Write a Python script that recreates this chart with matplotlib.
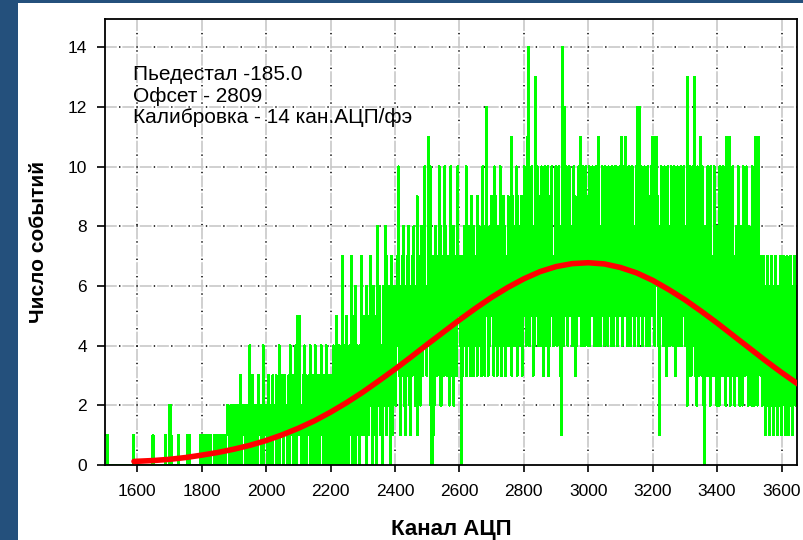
import numpy as np
import matplotlib
matplotlib.use("Agg")
import matplotlib.pyplot as plt
from matplotlib.patches import Rectangle

plt.rcParams['font.family'] = ['Liberation Sans', 'DejaVu Sans']
plt.rcParams['lines.scale_dashes'] = False

# гистограмма: отсчёты по каналам, один символ (hex) = один бин, куски по 100 каналов
chunk_start = [1500, 1600, 1700, 1800, 1900, 2000, 2100, 2200, 2300, 2400, 2500,
               2600, 2700, 2800, 2900, 3000, 3100, 3200, 3300, 3400, 3500, 3600]
chunk_end = chunk_start[1:] + [3648]
counts = [
    "11110000000000000000000000000000000000000000100000",
    "00000000000000000000000010000000000000000001000000",
    "22100000000001000000000000001011000000000000000010",
    "11010110100001000000101101111011011110112101120121",
    "10212011203101211021102140213012101201311120140212",
    "20131021203122130211402131203121022304121301241052",
    "31520213041302123140213023410231302413102134021302",
    "31204130250314203172041305230412730523062413042731",
    "41352064135724036251408352614306253817426350741365",
    "52674a3615374826153748261537485263917462583654a463",
    "6b48a2605172847365a48274637a85364728a4638254738a65",
    "7450376485a3648573946385746395847638a46385c6374859",
    "8573a49638574a8364958376495847b3958476a39586749385",
    "a5849b7e4957a6384d95a748694a5738a6485a37498a57469a",
    "7495a6381ae4c85a6847a958647a5938476a59b48a6947a584",
    "9a4857a6948a5749b8465a9847a6584a9574a6948a5a8467a5",
    "8b4a6958ba485a7469a58475a6c94c85a7469a5847a6948a57",
    "b5a48b6947185a6948a5739a6847a5948a6375a8469a4857a6",
    "7482d73a6384a7d5382a6374b83a6208473a6382a7463a8372",
    "8372a6483a7382b5387b2648a3725837a4628372a5837a4628",
    "7362a4827b3628b4736257361627351637261537261536271",
    "627361527361427361537264",
]

# аппроксимация (красная кривая)
fit_x = [1590, 1650, 1700, 1750, 1800, 1850, 1900, 1950, 2000, 2050, 2100, 2150,
         2200, 2250, 2300, 2350, 2400, 2450, 2500, 2550, 2600, 2650, 2700, 2750,
         2800, 2850, 2900, 2950, 3000, 3050, 3100, 3150, 3200, 3250, 3300, 3350,
         3400, 3450, 3500, 3550, 3600, 3650]
fit_y = [0.12, 0.15, 0.19, 0.25, 0.33, 0.42, 0.53, 0.66, 0.82, 1.01, 1.23, 1.48,
         1.77, 2.09, 2.44, 2.82, 3.21, 3.62, 4.04, 4.45, 4.86, 5.25, 5.62, 5.95,
         6.24, 6.48, 6.65, 6.75, 6.78, 6.74, 6.62, 6.44, 6.19, 5.88, 5.54, 5.16,
         4.76, 4.34, 3.92, 3.50, 3.10, 2.72]

labels = ["Пьедестал -185.0", "Офсет - 2809", "Калибровка - 14 кан.АЦП/фэ"]

hx, hy = [], []
for a, b, s in zip(chunk_start, chunk_end, counts):
    w = (b - a) / len(s)
    for i, c in enumerate(s):
        hx.append(a + i * w)
        hy.append(int(c, 16))
hx.append(3648)
hy.append(hy[-1])

fig = plt.figure(figsize=(8.04, 5.4), dpi=100)
fig.patch.set_facecolor('#24507c')
fig.patches.append(Rectangle((18 / 804, 0), 1, 537 / 540, transform=fig.transFigure,
                             facecolor='white', edgecolor='none', zorder=-5))

ax = fig.add_axes([105 / 804, 75 / 540, 692 / 804, 446 / 540])
ax.set_facecolor('white')
ax.set_xlim(1500, 3648)
ax.set_ylim(0, 14.95)
ax.set_xticks(range(1600, 3601, 200))
ax.set_yticks(range(0, 15, 2))

# сетка: серые штрихи + чёрные точки
for v in ax.get_xticks():
    ax.axvline(v, color='#c4c4c4', lw=1.1, ls=(0, (8.5, 4.0)), zorder=1)
    ax.axvline(v, color='black', lw=1.1, ls=(2.4, (1, 11.5)), zorder=1)
for v in ax.get_yticks()[1:]:
    ax.axhline(v, color='#c4c4c4', lw=1.1, ls=(0, (8.5, 4.0)), zorder=1)
    ax.axhline(v, color='black', lw=1.1, ls=(2.4, (1, 11.5)), zorder=1)

ax.step(hx, hy, where='post', color='#00ff00', lw=1.0, antialiased=False, zorder=2)
ax.plot(fit_x, fit_y, color='#ff0000', lw=4.0, solid_capstyle='round', zorder=3)

ax.tick_params(axis='x', direction='out', length=5, width=1.2, pad=9, labelsize=12.5)
ax.tick_params(axis='y', direction='out', length=6, width=1.2, pad=7, labelsize=12.5)
for sp in ax.spines.values():
    sp.set_linewidth(1.3)

ax.set_xlabel("Канал АЦП", fontsize=16, fontweight='bold', labelpad=14)
ax.set_ylabel("Число событий", fontsize=15, fontweight='bold', labelpad=14)

for i, t in enumerate(labels):
    ax.text(28 / 692, 1 - (61 + 21.5 * i) / 446, t, transform=ax.transAxes,
            fontsize=15, va='baseline', ha='left', zorder=4)

fig.savefig("out.png", dpi=100, facecolor=fig.get_facecolor())
